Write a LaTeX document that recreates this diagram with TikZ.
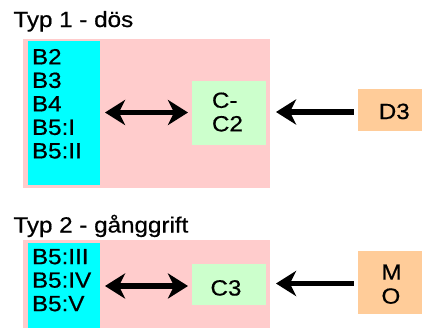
\documentclass[tikz,border=0pt]{standalone}
\usepackage{fontspec}
\setmainfont{Liberation Sans}[FakeStretch=1.1, FakeBold=0.6]
\usetikzlibrary{arrows.meta}
\definecolor{boxpink}{RGB}{255,204,204}
\definecolor{boxcyan}{RGB}{0,255,255}
\definecolor{boxgreen}{RGB}{204,255,204}
\definecolor{boxpeach}{RGB}{255,204,153}
\tikzset{
  panel/.style={fill=#1, draw=none, inner sep=0pt, outer sep=0pt, anchor=north west},
  label/.style={inner sep=0pt, outer sep=0pt, font=\fontsize{22}{23.5}\selectfont},
  listing/.style={label, align=left, anchor=north west},
  tip/.style={Stealth[length=20pt,width=25pt,inset=6pt]},
  biarrow/.style={line width=5.5pt, {Stealth[length=20pt,width=25pt,inset=6pt]}-{Stealth[length=20pt,width=25pt,inset=6pt]}},
  onearrow/.style={line width=5.5pt, -{Stealth[length=20pt,width=25pt,inset=6pt]}}
}
\begin{document}
\begin{tikzpicture}[x=1pt,y=-1pt]
\useasboundingbox (0,0) rectangle (422,327);
\clip (0,0) rectangle (422,327);

% Typ 1
\node[label, anchor=base west] (title1) at (13.5,27) {Typ 1 - dös};
\node[panel=boxpink, minimum width=247pt, minimum height=149pt] (pink1) at (23,39) {};
\node[panel=boxcyan, minimum width=72pt, minimum height=144pt] (cyan1) at (28,41) {};
\node[panel=boxgreen, minimum width=74pt, minimum height=64pt] (green1) at (192,81) {};
\node[panel=boxpeach, minimum width=80pt, minimum height=42pt] (peach1) at (358,89) {};
\node[listing] (list1) at (32,49) {B2\\B3\\B4\\B5:I\\B5:II};
\node[listing] (cc2) at (212,92.5) {C-\\C2};
\node[label, anchor=base west] (d3) at (378.8,119) {D3};

\coordinate (row1a) at (0,112.5);
\coordinate (row1b) at (0,112);
\draw[biarrow, shorten <=5pt, shorten >=4pt] (cyan1.east |- row1a) -- (green1.west |- row1a);
\draw[onearrow, shorten <=4.5pt, shorten >=10pt] (peach1.west |- row1b) -- (green1.east |- row1b);

% Typ 2
\node[label, anchor=base west] (title2) at (13.5,232.5) {Typ 2 - gånggrift};
\node[panel=boxpink, minimum width=247pt, minimum height=100pt] (pink2) at (23,240) {};
\node[panel=boxcyan, minimum width=72pt, minimum height=100pt] (cyan2) at (28,243) {};
\node[panel=boxgreen, minimum width=74pt, minimum height=41.5pt] (green2) at (192,263.5) {};
\node[panel=boxpeach, minimum width=80pt, minimum height=63pt] (peach2) at (358,250.5) {};
\node[listing] (list2) at (32,249) {B5:III\\B5:IV\\B5:V};
\node[label, anchor=base west] (c3) at (210.5,295.5) {C3};
\node[listing, font=\fontsize{22}{24}\selectfont] (mo) at (381.5,264.5) {M\\O};

\coordinate (row2a) at (0,286);
\coordinate (row2b) at (0,283.5);
\draw[biarrow, shorten <=5pt, shorten >=4pt] (cyan2.east |- row2a) -- (green2.west |- row2a);
\draw[onearrow, shorten <=4.5pt, shorten >=10pt] (peach2.west |- row2b) -- (green2.east |- row2b);
\end{tikzpicture}
\end{document}
